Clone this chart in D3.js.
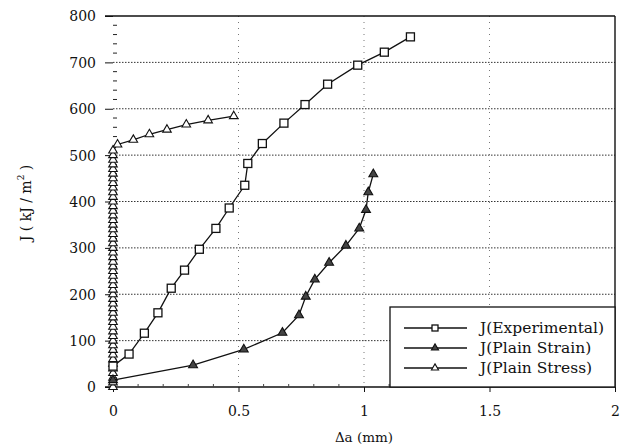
<!DOCTYPE html>
<html><head><meta charset="utf-8">
<script src="https://cdn.jsdelivr.net/npm/d3@7"></script>
<style>body{margin:0;background:#fff}svg{display:block}</style>
</head><body><svg id="c" width="627" height="447"></svg>
<script>
// ---- data ----
const expX = [0, 0.064, 0.125, 0.179, 0.232, 0.285, 0.344, 0.41, 0.463, 0.525, 0.537, 0.595, 0.681, 0.765, 0.855, 0.975, 1.081, 1.185];
const expJ = [45, 71, 116, 160, 213, 252, 297, 342, 386, 435, 482, 525, 569, 609, 653, 694, 722, 755];
const strainX = [0, 0.319, 0.521, 0.675, 0.741, 0.768, 0.804, 0.861, 0.928, 0.981, 1.008, 1.017, 1.037];
const strainJ = [15, 47, 81, 117, 155, 195, 232, 268, 305, 342, 382, 420, 459];
const stressX = [0,0,0,0,0,0,0,0,0,0,0,0,0,0,0,0,0,0,0,0,0,0,0,0,0,0,0,0,0,0,0,0,0,0,0,0,0,0,0,0,0,0,0,0,0,0,0,0,0,0,0,0,
                 0.018, 0.081, 0.145, 0.215, 0.292, 0.379, 0.481];
const stressJ = [0,10,20,30,40,50,60,70,80,90,100,110,120,130,140,150,160,170,180,190,200,210,220,230,240,250,260,270,280,290,300,310,320,330,340,350,360,370,380,390,400,410,420,430,440,450,460,470,480,490,500,510,
                 523, 533, 545, 555, 566, 575, 584];
const xTicks = [0, 0.5, 1, 1.5, 2];
const xTickLabels = ["0", "0.5", "1", "1.5", "2"];
const yTicks = [0, 100, 200, 300, 400, 500, 600, 700, 800];
const legendLabels = ["J(Experimental)", "J(Plain Strain)", "J(Plain Stress)"];
const xTitle = "\u0394a (mm)";

// ---- layout ----
const svg = d3.select("#c");
const L = 113, R = 615, T = 16, B = 387;
const x = d3.scaleLinear().domain([0, 2]).range([L, R]);
const y = d3.scaleLinear().domain([0, 800]).range([B, T]);
const FONT = '"DejaVu Serif", "Liberation Serif"';

// grid
svg.append("g").selectAll("line").data(yTicks.filter(v => v > 0 && v < 800)).join("line")
  .attr("x1", L).attr("x2", R).attr("y1", d => y(d)).attr("y2", d => y(d))
  .attr("stroke", "#333").attr("stroke-width", 1).attr("stroke-dasharray", "1.5,1.5");
svg.append("g").selectAll("line").data(xTicks.filter(v => v > 0 && v < 2)).join("line")
  .attr("y1", T).attr("y2", B).attr("x1", d => x(d)).attr("x2", d => x(d))
  .attr("stroke", "#777").attr("stroke-width", 1).attr("stroke-dasharray", "1,5");

// frame top/right/bottom
svg.append("line").attr("x1", L - 8).attr("x2", R).attr("y1", T).attr("y2", T).attr("stroke", "#111").attr("stroke-width", 1.6);
svg.append("line").attr("x1", R).attr("x2", R).attr("y1", T).attr("y2", B).attr("stroke", "#111").attr("stroke-width", 1.4);
svg.append("line").attr("x1", L - 8).attr("x2", R).attr("y1", B).attr("y2", B).attr("stroke", "#111").attr("stroke-width", 1.6);

// y axis ticks and labels
const yAxis = d3.axisLeft(y).tickValues(yTicks).tickSize(8).tickFormat(d3.format("d"));
const gy = svg.append("g").attr("transform", `translate(${L},0)`).call(yAxis);
gy.select(".domain").remove();
gy.selectAll(".tick line").attr("stroke", "#111");
gy.selectAll(".tick text").style("font-family", FONT).style("font-size", "14px").attr("fill", "#111").attr("x", -17).attr("dy", "0.35em");
// y minor ticks (inside)
svg.append("g").selectAll("line").data(d3.range(20, 800, 20).filter(v => v % 100 !== 0)).join("line")
  .attr("x1", L).attr("x2", L + 4).attr("y1", d => y(d)).attr("y2", d => y(d)).attr("stroke", "#222");

// x axis
const xAxis = d3.axisBottom(x).tickValues(xTicks).tickSize(5).tickFormat((d, i) => xTickLabels[i]);
const gx = svg.append("g").attr("transform", `translate(0,${B})`).call(xAxis);
gx.select(".domain").remove();
gx.selectAll(".tick line").attr("stroke", "#111");
gx.selectAll(".tick text").style("font-family", FONT).style("font-size", "14px").attr("fill", "#111").attr("y", 19);
svg.append("g").selectAll("line").data(d3.range(1, 20).filter(v => v % 5 !== 0).map(v => v / 10)).join("line")
  .attr("x1", d => x(d)).attr("x2", d => x(d)).attr("y1", B).attr("y2", B - 3).attr("stroke", "#444");

// titles
svg.append("text").attr("x", x(1)).attr("y", 442).attr("text-anchor", "middle")
  .style("font-family", FONT).style("font-size", "13.5px").attr("fill", "#111").text(xTitle);
const yt = svg.append("text").attr("transform", "translate(31,203) rotate(-90)").attr("text-anchor", "middle")
  .style("font-family", FONT).style("font-size", "14px").attr("fill", "#111");
yt.append("tspan").text("J ( kJ / m");
yt.append("tspan").style("font-size", "9px").attr("dy", -7).text("2");
yt.append("tspan").attr("dy", 7).text(" )");

// marker helpers
const tri = d3.symbol().type(d3.symbolTriangle);
function drawSeries(xs, js, kind, size) {
  const pts = xs.map((v, i) => [v, js[i]]);
  svg.append("path").datum(pts)
    .attr("d", d3.line().x(d => x(d[0])).y(d => y(d[1])))
    .attr("fill", "none").attr("stroke", "#111").attr("stroke-width", 1.3);
  const g = svg.append("g");
  pts.forEach(p => drawMarker(g, x(p[0]), y(p[1]), kind, size));
}
function drawMarker(g, cx, cy, kind, size) {
  if (kind === "square") {
    g.append("rect").attr("x", cx - size / 2).attr("y", cy - size / 2).attr("width", size).attr("height", size)
      .attr("fill", "#fff").attr("stroke", "#111").attr("stroke-width", 1.3);
  } else if (kind === "filled") {
    g.append("path").attr("d", tri.size(size)()).attr("transform", `translate(${cx},${cy})`)
      .attr("fill", "#444").attr("stroke", "#111").attr("stroke-width", 1.1);
  } else {
    g.append("path").attr("d", tri.size(size)()).attr("transform", `translate(${cx},${cy})`)
      .attr("fill", "#fff").attr("stroke", "#111").attr("stroke-width", 1.1);
  }
}
drawSeries(stressX, stressJ, "open", 32);
drawSeries(expX, expJ, "square", 8);
drawSeries(strainX, strainJ, "filled", 34);

// legend
const lg = svg.append("g");
lg.append("rect").attr("x", 390).attr("y", 307).attr("width", R - 390).attr("height", B - 307)
  .attr("fill", "#fff").attr("stroke", "#111").attr("stroke-width", 1.3);
const kinds = ["square", "filled", "open"];
legendLabels.forEach((t, i) => {
  const ly = 328 + i * 20;
  lg.append("line").attr("x1", 404).attr("x2", 467).attr("y1", ly).attr("y2", ly).attr("stroke", "#111").attr("stroke-width", 1.3);
  drawMarker(lg, 435, ly, kinds[i], kinds[i] === "square" ? 6 : 22);
  lg.append("text").attr("x", 480).attr("y", ly + 5).style("font-family", FONT).style("font-size", "15.5px")
    .attr("fill", "#111").text(t);
});
</script></body></html>
